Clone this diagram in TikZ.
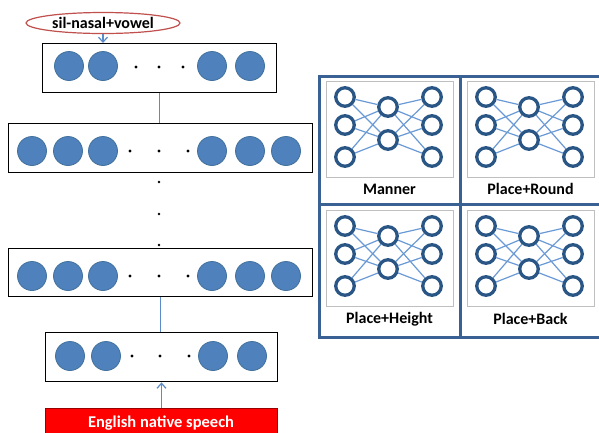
\documentclass[tikz,border=0pt]{standalone}
\usepackage{fontspec}
\setmainfont{Carlito}
\usetikzlibrary{arrows.meta,shapes.geometric}
\definecolor{cfill}{HTML}{4F81BD}
\definecolor{cdraw}{HTML}{41719C}
\definecolor{connblue}{HTML}{5B8BC9}
\definecolor{ellred}{HTML}{C0504D}
\definecolor{frameblue}{HTML}{3A6194}
\definecolor{ringblue}{HTML}{2A5686}
\definecolor{edgeblue}{HTML}{6A9AD6}
\definecolor{imggray}{HTML}{BFBFBF}
\tikzset{
  unit/.style={circle, fill=cfill, draw=cdraw, line width=0.8pt, minimum size=29pt, inner sep=0pt},
  hdot/.style={circle, fill=black, minimum size=3.2pt, inner sep=0pt},
  vdot/.style={circle, fill=black, minimum size=2.6pt, inner sep=0pt},
  layerbox/.style={draw=black, line width=1.4pt, fill=white, anchor=north west, inner sep=0pt},
  connline/.style={draw=connblue, line width=1.3pt},
  arrowline/.style={connline, -{Straight Barb[length=5pt,width=9pt,line width=1.2pt]}},
  ring/.style={circle, draw=ringblue, line width=3.3pt, minimum size=18.5pt, inner sep=0pt},
  netedge/.style={draw=edgeblue, line width=1.2pt},
  imgbox/.style={draw=imggray, line width=0.6pt, minimum width=127pt, minimum height=96pt, anchor=north west, inner sep=0pt},
  cellabel/.style={font=\bfseries\fontsize{16}{18}\selectfont, inner sep=0pt},
}
\newcommand\nnet[3]{%
  \begin{scope}[shift={(#2,#3)}]
    \node[imgbox] (#1img) at (0,0) {};
    \foreach \yy [count=\i] in {16,44,76} \node[ring] (#1a\i) at (19,\yy) {};
    \foreach \yy [count=\i] in {26,59} \node[ring] (#1b\i) at (62,\yy) {};
    \foreach \yy [count=\i] in {16,44,76} \node[ring] (#1c\i) at (106,\yy) {};
    \foreach \i in {1,2,3} {\foreach \j in {1,2} {
      \draw[netedge] (#1a\i) -- (#1b\j);
      \draw[netedge] (#1b\j) -- (#1c\i);
    }}
  \end{scope}}
\begin{document}
\begin{tikzpicture}[x=1pt,y=-1pt]
\useasboundingbox (0,0) rectangle (599,432);
\clip (0,0) rectangle (599,432);
\fill[white] (0,0) rectangle (599,432);

% layer boxes
\node[layerbox, minimum width=234pt, minimum height=49pt] (L1) at (42,43) {};
\node[layerbox, minimum width=304pt, minimum height=49pt] (L2) at (8,123) {};
\node[layerbox, minimum width=304pt, minimum height=48pt] (L3) at (8,248) {};
\node[layerbox, minimum width=232pt, minimum height=49pt] (L4) at (45,332) {};

% units
\foreach \x [count=\i] in {69,103,212,250} \node[unit] (L1u\i) at (\x,66) {};
\foreach \x [count=\i] in {136,159,183} \node[hdot] (L1d\i) at (\x,67) {};

\foreach \x [count=\i] in {32,68,103,212,250,286} \node[unit] (L2u\i) at (\x,151) {};
\foreach \x [count=\i] in {130,159,188} \node[hdot] (L2d\i) at (\x,151) {};

\foreach \x [count=\i] in {32,68,103,212,250,286} \node[unit] (L3u\i) at (\x,276) {};
\foreach \x [count=\i] in {130,159,188} \node[hdot] (L3d\i) at (\x,276) {};

\foreach \x [count=\i] in {70,106,213,252} \node[unit] (L4u\i) at (\x,356) {};
\foreach \x [count=\i] in {132,160,189} \node[hdot] (L4d\i) at (\x,356) {};

% vertical dots
\foreach \yy [count=\i] in {182,214,245} \node[vdot] (vd\i) at (159,\yy) {};

% output label
\node[ellipse, draw=ellred, line width=1.2pt, fill=white, minimum width=154pt, minimum height=21pt, inner sep=0pt,
      font=\bfseries\fontsize{16}{18}\selectfont] (lab) at (103,23) {sil-nasal+vowel};

% input
\node[fill=red, draw=red!60!black, line width=1pt, minimum width=232pt, minimum height=34pt, anchor=north west, inner sep=0pt] (inp) at (45,408) {};
\node[text=white, font=\bfseries\fontsize{16.5}{18}\selectfont, inner sep=0pt] (inptxt) at (161,423) {English native speech};

% connectors
\draw[arrowline] (lab.south) -- (lab.south |- L1.north);
\draw[connline] (L1.south) -- (L1.south |- L2.north);
\draw[connline] (L3.south) -- (L3.south |- L4.north);
\draw[arrowline] (inp.north) -- (inp.north |- L4.south);

% right panel
\draw[frameblue, line width=3pt] (319,76) rectangle (603,337);
\draw[frameblue, line width=3pt] (460,76) -- (460,337);
\draw[frameblue, line width=3pt] (319,204) -- (603,204);

\nnet{tl}{326}{81}
\nnet{tr}{467}{81}
\nnet{bl}{326}{210}
\nnet{br}{467}{210}

\node[cellabel] (lbtl) at (389.5,189) {Manner};
\node[cellabel] (lbtr) at (530.5,189) {Place+Round};
\node[cellabel] (lbbl) at (389.5,319) {Place+Height};
\node[cellabel] (lbbr) at (530.5,319) {Place+Back};
\end{tikzpicture}
\end{document}
